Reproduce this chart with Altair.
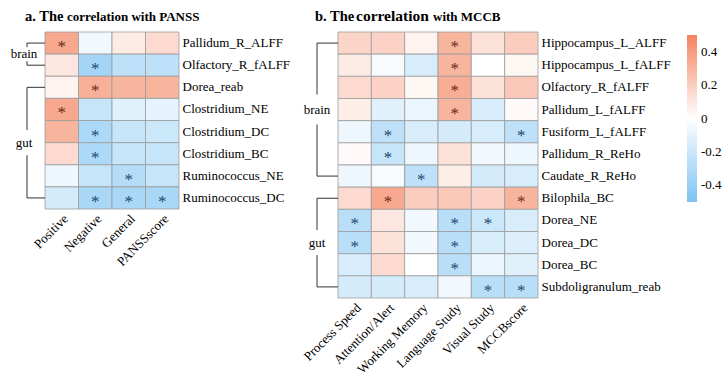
import altair as alt
import pandas as pd

FONT = "Liberation Serif"

# ---------------- data ----------------
a_rows = ["Pallidum_R_ALFF", "Olfactory_R_fALFF", "Dorea_reab", "Clostridium_NE",
          "Clostridium_DC", "Clostridium_BC", "Ruminococcus_NE", "Ruminococcus_DC"]
a_cols = ["Positive", "Negative", "General", "PANSSscore"]
a_values = [
    [0.35, -0.05, 0.08, 0.15],
    [0.10, -0.35, -0.25, -0.25],
    [0.05, 0.32, 0.30, 0.30],
    [0.35, -0.22, -0.12, -0.10],
    [0.30, -0.32, -0.22, -0.20],
    [0.15, -0.32, -0.22, -0.22],
    [-0.07, -0.22, -0.28, -0.22],
    [-0.17, -0.33, -0.33, -0.33],
]
a_sig = [
    [1, 0, 0, 0],
    [0, 1, 0, 0],
    [0, 1, 0, 0],
    [1, 0, 0, 0],
    [0, 1, 0, 0],
    [0, 1, 0, 0],
    [0, 0, 1, 0],
    [0, 1, 1, 1],
]

b_rows = ["Hippocampus_L_ALFF", "Hippocampus_L_fALFF", "Olfactory_R_fALFF", "Pallidum_L_fALFF",
          "Fusiform_L_fALFF", "Pallidum_R_ReHo", "Caudate_R_ReHo", "Bilophila_BC",
          "Dorea_NE", "Dorea_DC", "Dorea_BC", "Subdoligranulum_reab"]
b_cols = ["Process Speed", "Attention/Alert", "Working Memory", "Language Study",
          "Visual Study", "MCCBscore"]
b_values = [
    [0.17, 0.18, 0.05, 0.30, 0.12, 0.20],
    [0.08, -0.03, -0.15, 0.30, 0.00, 0.03],
    [0.15, 0.18, 0.03, 0.33, 0.12, 0.22],
    [0.07, -0.12, -0.08, 0.30, -0.15, 0.02],
    [-0.07, -0.25, -0.15, -0.17, -0.15, -0.25],
    [0.02, -0.22, -0.07, 0.12, -0.05, -0.07],
    [-0.07, -0.03, -0.25, 0.07, -0.17, -0.15],
    [0.15, 0.35, 0.20, 0.22, 0.18, 0.30],
    [-0.27, 0.10, -0.05, -0.27, -0.20, -0.15],
    [-0.27, 0.12, -0.05, -0.27, -0.15, -0.13],
    [-0.15, 0.15, 0.00, -0.27, -0.08, -0.12],
    [-0.17, -0.17, -0.15, -0.05, -0.27, -0.27],
]
b_sig = [
    [0, 0, 0, 1, 0, 0],
    [0, 0, 0, 1, 0, 0],
    [0, 0, 0, 1, 0, 0],
    [0, 0, 0, 1, 0, 0],
    [0, 1, 0, 0, 0, 1],
    [0, 1, 0, 0, 0, 0],
    [0, 0, 1, 0, 0, 0],
    [0, 1, 0, 0, 0, 1],
    [1, 0, 0, 1, 1, 0],
    [1, 0, 0, 1, 0, 0],
    [0, 0, 0, 1, 0, 0],
    [0, 0, 0, 0, 1, 1],
]

a_groups = [
    {"label": "brain", "first": "Pallidum_R_ALFF", "last": "Olfactory_R_fALFF", "at": "Pallidum_R_ALFF", "gap": 196},
    {"label": "gut", "first": "Dorea_reab", "last": "Ruminococcus_DC", "at": "Clostridium_DC", "gap": 625},
]
b_groups = [
    {"label": "brain", "first": "Hippocampus_L_ALFF", "last": "Caudate_R_ReHo", "at": "Pallidum_L_fALFF", "gap": 900},
    {"label": "gut", "first": "Bilophila_BC", "last": "Subdoligranulum_reab", "at": "Dorea_DC", "gap": 625},
]

legend_ticks = [-0.4, -0.2, 0, 0.2, 0.4]
color_domain = [-0.5, 0, 0.5]
color_range = ["#7DC3F2", "#FFFFFF", "#F4835E"]

STAR_POS = "#6a2a1a"
STAR_NEG = "#1c4a70"
LINE = "#333333"


def long_df(rows, cols, values, sig):
    recs = []
    for i, r in enumerate(rows):
        for j, c in enumerate(cols):
            recs.append({"row": r, "col": c, "value": values[i][j], "sig": bool(sig[i][j])})
    return pd.DataFrame(recs)


def panel(rows, cols, values, sig, groups, width, height, line_x, label_x, label_band,
          titles, legend):
    df = long_df(rows, cols, values, sig)
    xs = alt.Scale(domain=cols)
    ys = alt.Scale(domain=rows)
    xenc = alt.X("col:N", scale=xs, title=None,
                 axis=alt.Axis(labelAngle=-45, labelFont=FONT, labelFontSize=13,
                               labelColor="black", ticks=False, domain=False,
                               labelPadding=3))
    yenc = alt.Y("row:N", scale=ys, title=None,
                 axis=alt.Axis(orient="right", labelFont=FONT, labelFontSize=13,
                               labelColor="black", ticks=False, domain=False,
                               labelPadding=3))
    heat = alt.Chart(df).mark_rect(stroke="#9c9c9c", strokeWidth=0.8).encode(
        x=xenc, y=yenc,
        color=alt.Color("value:Q",
                        scale=alt.Scale(domain=color_domain, range=color_range,
                                        interpolate="rgb"),
                        legend=legend),
    )
    stars = alt.Chart(df).transform_filter("datum.sig").mark_text(
        text="*", font=FONT, fontSize=17, baseline="middle", dy=4
    ).encode(
        x=alt.X("col:N", scale=xs, title=None),
        y=alt.Y("row:N", scale=ys, title=None),
        color=alt.condition("datum.value > 0", alt.value(STAR_POS), alt.value(STAR_NEG)),
    )
    gdf = pd.DataFrame(groups)
    ends = pd.DataFrame({"row": [g["first"] for g in groups] + [g["last"] for g in groups]})
    ticks = alt.Chart(ends).mark_rule(color=LINE, strokeWidth=1).encode(
        y=alt.Y("row:N", scale=ys, title=None),
        x=alt.value(line_x), x2=alt.value(0),
    )
    vert = alt.Chart(gdf).mark_rule(color=LINE, strokeWidth=1).encode(
        y=alt.Y("first:N", scale=ys, title=None),
        y2="last:N",
        x=alt.value(line_x),
    )
    backdrop = alt.Chart(gdf).mark_point(
        shape="M-0.2,-1L0.2,-1L0.2,1L-0.2,1Z", filled=True, color="white",
        opacity=1, strokeWidth=0
    ).encode(
        y=alt.Y("at:N", scale=ys, title=None, bandPosition=label_band),
        x=alt.value(line_x),
        size=alt.Size("gap:Q", scale=None),
    )
    labels = alt.Chart(gdf).mark_text(
        font=FONT, fontSize=13, align="center", baseline="middle", color="black"
    ).encode(
        y=alt.Y("at:N", scale=ys, title=None, bandPosition=label_band),
        x=alt.value(label_x),
        text="label:N",
    )
    layers = [heat, stars, ticks, vert, backdrop, labels]
    for txt, dx, size in titles:
        layers.append(
            alt.Chart(pd.DataFrame({"t": [txt]})).mark_text(
                font=FONT, fontSize=size, fontWeight="bold", align="left",
                baseline="alphabetic", color="black"
            ).encode(text="t:N", x=alt.value(dx), y=alt.value(-11))
        )
    return alt.layer(*layers).properties(width=width, height=height)


pa = panel(a_rows, a_cols, a_values, a_sig, a_groups, 134, 177,
           line_x=-18, label_x=-21, label_band=1.0,
           titles=[("a. The", -20, 14.5), ("correlation with PANSS", 22, 13)],
           legend=None)

legend_b = alt.Legend(
    orient="none", legendX=349, legendY=3, direction="vertical",
    gradientLength=167, gradientThickness=10, values=legend_ticks,
    labelFont=FONT, labelFontSize=13, labelColor="black", labelOffset=4,
    gradientStrokeWidth=0, padding=0, title=None,
    labelExpr="datum.value == 0 ? '0' : (datum.value < 0 ? '-' + format(-datum.value, '.1f') : format(datum.value, '.1f'))",
)

pb = panel(b_rows, b_cols, b_values, b_sig, b_groups, 200, 266,
           line_x=-21, label_x=-21, label_band=0.5,
           titles=[("b. The", -23, 14.5), ("correlation", 18, 15.5), ("with MCCB", 95, 13)],
           legend=legend_b)

chart = alt.hconcat(pa, pb, spacing=159, bounds="flush").resolve_scale(
    color="independent"
).configure_view(stroke=None).properties(
    padding={"left": 10, "top": 9, "right": 5, "bottom": 5},
    background="white",
)

chart.save("out.html", embed_options={"renderer": "svg", "actions": False})
